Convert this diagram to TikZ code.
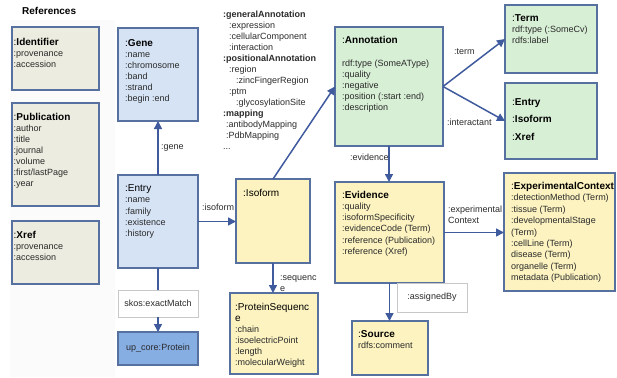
\documentclass[tikz,border=0pt]{standalone}
\usepackage{fontspec}
\setmainfont{Liberation Sans}
\usetikzlibrary{arrows.meta}
\definecolor{bord}{HTML}{56709F}
\definecolor{arrc}{HTML}{3F5B9E}
\definecolor{reffill}{HTML}{ECECE0}
\definecolor{bluefill}{HTML}{D5E3F5}
\definecolor{darkblue}{HTML}{86AEE3}
\definecolor{yelfill}{HTML}{FCF3C0}
\definecolor{grnfill}{HTML}{D7EFD5}
\definecolor{txtc}{HTML}{2A2A2A}
\definecolor{lightbord}{HTML}{C8C8C8}
\definecolor{colbg}{HTML}{FBFBFB}
\newcommand\ttl[1]{{\fontsize{10}{11}\selectfont\color{black}:\textbf{#1}}}
\newcommand\rtl[1]{{\fontsize{10}{11}\selectfont\color{black}#1}}
\begin{document}
\begin{tikzpicture}[x=1pt,y=-1pt,
  box/.style={draw=bord, line width=1.1pt, inner sep=0, outer sep=0, anchor=north west},
  wbox/.style={draw=lightbord, fill=white, line width=0.8pt, inner sep=0, outer sep=0, anchor=north west, font=\fontsize{9}{11}\selectfont, text=txtc},
  txt/.style={anchor=north west, inner sep=0, align=left, font=\fontsize{9}{11}\selectfont, text=txtc},
  lbl/.style={anchor=west, inner sep=0, font=\fontsize{9}{11}\selectfont, text=txtc},
  arr/.style={draw=arrc, line width=1.5pt, -{Triangle[length=8pt,width=8pt]}},
  plain/.style={draw=arrc, line width=1.5pt}
]
\useasboundingbox (0,0) rectangle (617,377);
\fill[colbg] (10,20) rectangle (115,377);

% References column
\node[anchor=west, inner sep=0, font=\fontsize{10}{11}\selectfont\bfseries] (refs) at (22,11) {References};
\node[box, fill=reffill, minimum width=87pt, minimum height=63pt] (ident) at (12,27) {};
\node[txt] (ident-t) at (13.5,37.3) {\strut\ttl{Identifier}\\:provenance\\:accession};
\node[box, fill=reffill, minimum width=87pt, minimum height=103pt] (pub) at (12,103) {};
\node[txt] (pub-t) at (13.5,112.3) {\strut\ttl{Publication}\\:author\\:title\\:journal\\:volume\\:first/lastPage\\:year};
\node[box, fill=reffill, minimum width=87pt, minimum height=63pt] (xref) at (12,221) {};
\node[txt] (xref-t) at (13.5,230.3) {\strut\ttl{Xref}\\:provenance\\:accession};

% Gene / Entry
\node[box, fill=bluefill, minimum width=80pt, minimum height=93pt] (gene) at (118,28) {};
\node[txt] (gene-t) at (125,38.3) {\strut\ttl{Gene}\\:name\\:chromosome\\:band\\:strand\\:begin :end};
\node[box, fill=bluefill, minimum width=80pt, minimum height=93pt] (entry) at (118,175) {};
\node[txt, font=\fontsize{9}{11.3}\selectfont] (entry-t) at (125,183.3) {\strut\rtl{:Entry}\\:name\\:family\\:existence\\:history};
\node[wbox, minimum width=80pt, minimum height=27pt] (skos) at (118,290) {skos:exactMatch};
\node[box, fill=darkblue, minimum width=80pt, minimum height=33pt, font=\fontsize{9}{11}\selectfont, text=txtc] (protein) at (118,332) {up\_core:Protein};

% Isoform / ProteinSequence
\node[box, fill=yelfill, minimum width=74pt, minimum height=84pt] (isoform) at (236,179) {};
\node[txt] (isoform-t) at (243,188.3) {\strut\rtl{:Isoform}};
\node[box, fill=yelfill, minimum width=88pt, minimum height=81pt] (protseq) at (230,293) {};
\node[txt] (protseq-t) at (235,302.3) {\strut\rtl{:ProteinSequenc}\\\rtl{e}\\:chain\\:isoelectricPoint\\:length\\:molecularWeight};

% middle list
\node[txt] (list) at (223,9.3) {\strut\textbf{:generalAnnotation}\\
\hspace*{6pt}:expression\\
\hspace*{6pt}:cellularComponent\\
\hspace*{6pt}:interaction\\
\textbf{:positionalAnnotation}\\
\hspace*{6pt}:region\\
\hspace*{13pt}:zincFingerRegion\\
\hspace*{6pt}:ptm\\
\hspace*{13pt}:glycosylationSite\\
\textbf{:mapping}\\
\hspace*{3pt}:antibodyMapping\\
\hspace*{3pt}:PdbMapping\\
...};

% Annotation
\node[box, fill=grnfill, minimum width=108pt, minimum height=119pt] (annot) at (335,27) {};
\node[txt] (annot-t) at (342,35.3) {\strut\ttl{Annotation}\\[12pt]rdf:type (SomeAType)\\:quality\\:negative\\:position (:start :end)\\:description};
\node[box, fill=grnfill, minimum width=92pt, minimum height=68pt] (term) at (505,5) {};
\node[txt] (term-t) at (512,13.3) {\strut\ttl{Term}\\rdf:type (:SomeCv)\\rdfs:label};
\node[box, fill=grnfill, minimum width=92pt, minimum height=76pt] (entbox) at (505,83) {};
\node[txt] (entbox-t) at (512,97.3) {\strut\ttl{Entry}\\[6.5pt]\ttl{Isoform}\\[6.5pt]\ttl{Xref}};

% Evidence
\node[box, fill=yelfill, minimum width=109pt, minimum height=101pt] (evid) at (335,182) {};
\node[txt, font=\fontsize{9}{11.2}\selectfont] (evid-t) at (342,190.3) {\strut\ttl{Evidence}\\:quality\\:isoformSpecificity\\:evidenceCode (Term)\\:reference (Publication)\\:reference (Xref)};
\node[box, fill=yelfill, minimum width=111pt, minimum height=118pt] (expctx) at (504,173) {};
\node[txt, font=\fontsize{9}{11.4}\selectfont] (expctx-t) at (511,181.3) {\strut\ttl{ExperimentalContext}\\:detectionMethod (Term)\\:tissue (Term)\\:developmentalStage\\(Term)\\:cellLine (Term)\\disease (Term)\\organelle (Term)\\metadata (Publication)};
\node[box, fill=yelfill, minimum width=76pt, minimum height=54pt] (source) at (352,321) {};
\node[txt] (source-t) at (358,329.3) {\strut\ttl{Source}\\rdfs:comment};
\node[wbox, minimum width=70pt, minimum height=29pt] (assigned) at (397,283) {:assignedBy};

% connectors
\draw[arr] (entry.north) -- (gene.south);
\draw[arr] (entry.east) -- (entry.east -| isoform.west);
\draw[plain] (entry.south) -- (skos.north);
\draw[arr] (skos.south) -- (protein.north);
\draw[arr] (isoform.south) -- (isoform.south |- protseq.north);
\draw[arr] (isoform.north) -- (annot.west);
\draw[arr] (annot.east) -- (term.west);
\draw[arr] (annot.east) -- (entbox.west);
\draw[arr] (annot.south) -- (annot.south |- evid.north);
\draw[arr] (evid.east) -- (evid.east -| expctx.west);
\draw[arr] (evid.south) -- (evid.south |- source.north);

% labels
\node[lbl] (l-gene) at (161,148) {:gene};
\node[lbl] (l-iso) at (202,207) {:isoform};
\node[txt] (l-seq) at (280,272.3) {\strut:sequenc\\e};
\node[lbl] (l-evid) at (350,157) {:evidence};
\node[lbl] (l-term) at (454,52) {:term};
\node[lbl] (l-inter) at (447,122) {:interactant};
\node[txt] (l-exp) at (448,204.3) {\strut:experimental\\Context};
\end{tikzpicture}
\end{document}
